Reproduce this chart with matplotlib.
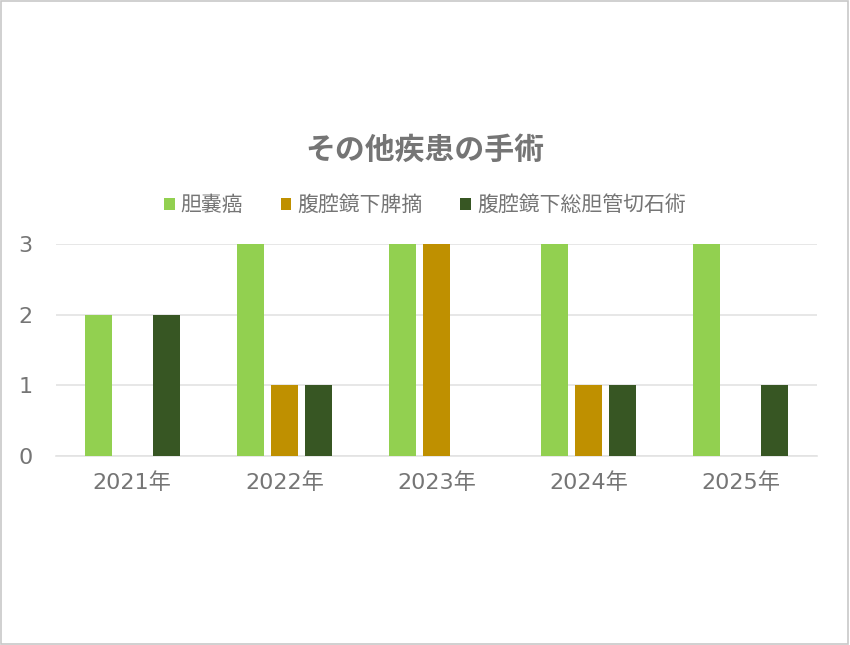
import numpy as np
import matplotlib.pyplot as plt
from matplotlib.patches import Rectangle

plt.rcParams['font.family'] = ['Noto Sans CJK JP', 'DejaVu Sans']

years = ['2021年', '2022年', '2023年', '2024年', '2025年']
series_names = ['胆嚢癌', '腹腔鏡下脾摘', '腹腔鏡下総胆管切石術']
gallbladder_cancer = [2, 3, 3, 3, 3]
lap_splenectomy = [0, 1, 3, 1, 0]
lap_cbd_lithotomy = [2, 1, 0, 1, 1]
colors = ['#92D050', '#BF9000', '#375623']

text_color = '#757575'
grid_color = '#e3e3e3'
tick_family = ['DejaVu Sans', 'Noto Sans CJK JP']

fig = plt.figure(figsize=(8.5, 6.45), dpi=100)
fig.patches.append(Rectangle((0.001, 0.001), 0.997, 0.997, transform=fig.transFigure,
                             fill=False, edgecolor='#c8c8c8', linewidth=1.2))

ax = fig.add_axes([0.066, 0.293, 0.895, 0.329])

x = np.arange(len(years))
width = 0.178
step = 0.223
for i, (vals, name) in enumerate(zip([gallbladder_cancer, lap_splenectomy, lap_cbd_lithotomy], series_names)):
    ax.bar(x + (i - 1) * step, vals, width, color=colors[i], label=name, zorder=3)

ax.set_xlim(-0.5, len(years) - 0.5)
ax.set_ylim(0, 3)
ax.set_yticks([0, 1, 2, 3])
ax.set_xticks(x)
ax.set_xticklabels(years)
ax.grid(axis='y', color=grid_color, linewidth=1.2, zorder=0)
for s in ['top', 'right', 'left']:
    ax.spines[s].set_visible(False)
ax.spines['bottom'].set_color(grid_color)
ax.spines['bottom'].set_linewidth(1.2)
ax.tick_params(axis='both', length=0, labelsize=16, labelcolor=text_color)
ax.tick_params(axis='x', pad=12)
ax.tick_params(axis='y', pad=17)
for lbl in ax.get_xticklabels() + ax.get_yticklabels():
    lbl.set_family(tick_family)

fig.text(0.5, 0.767, 'その他疾患の手術', ha='center', va='center', fontsize=21.5,
         fontweight='bold', color=text_color)

leg = fig.legend(loc='center', bbox_to_anchor=(0.5, 0.682), ncol=3, frameon=False,
                 fontsize=15, handlelength=0.5, handleheight=0.5, handletextpad=0.3,
                 columnspacing=1.8)
for t in leg.get_texts():
    t.set_color(text_color)

fig.savefig('out.png', dpi=100, facecolor='white')
